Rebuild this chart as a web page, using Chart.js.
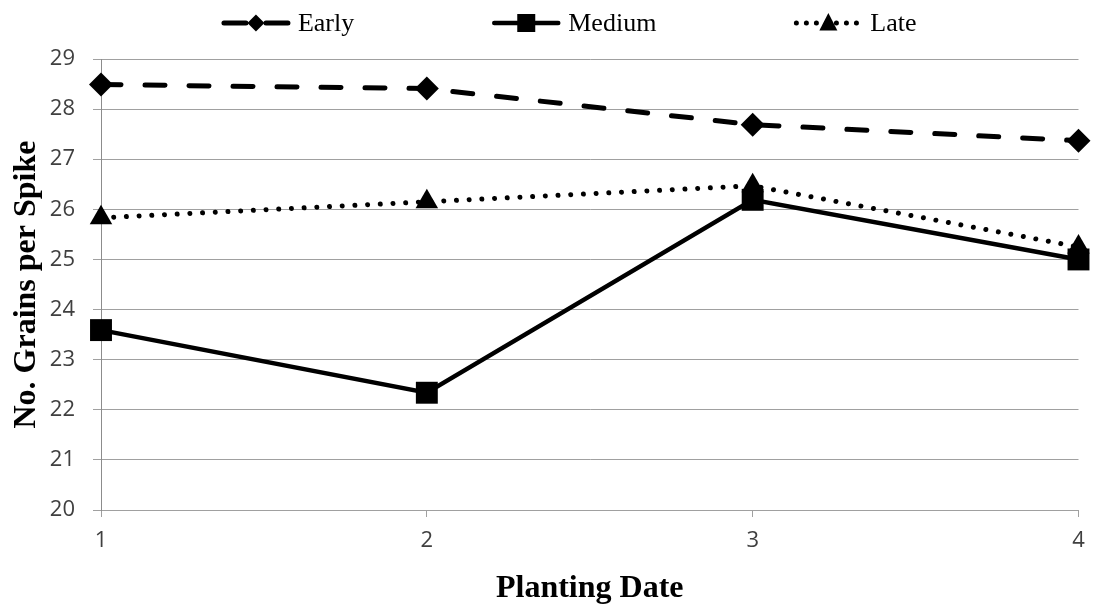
<!DOCTYPE html>
<html><head><meta charset="utf-8">
<script src="https://cdn.jsdelivr.net/npm/chart.js@4"></script>
<style>html,body{margin:0;padding:0;background:#fff}#wrap{width:1094px;height:605px}</style>
</head><body><div id="wrap"><canvas id="c" width="1094" height="605"></canvas></div>
<script>
const plantingDates = [1, 2, 3, 4];
const earlyValues = [28.49, 28.41, 27.69, 27.37];
const mediumValues = [23.59, 22.34, 26.19, 25.0];
const lateValues = [25.83, 26.15, 26.47, 25.25];
const yMin = 20, yMax = 29, yStep = 1;
const xMin = 1, xMax = 4;
const seriesNames = ['Early', 'Medium', 'Late'];
const xTitle = 'Planting Date';
const yTitle = 'No. Grains per Spike';

function pts(vals) { return plantingDates.map((d, i) => ({x: d, y: vals[i]})); }

function drawMarker(ctx, style, x, y, size) {
  ctx.beginPath();
  if (style === 'rectRot') {
    ctx.moveTo(x, y - size); ctx.lineTo(x + size, y); ctx.lineTo(x, y + size); ctx.lineTo(x - size, y);
  } else if (style === 'rect') {
    ctx.rect(x - size, y - size, size * 2, size * 2);
  } else if (style === 'triangle') {
    ctx.moveTo(x, y - size); ctx.lineTo(x + size * 0.9, y + size * 0.75); ctx.lineTo(x - size * 0.9, y + size * 0.75);
  }
  ctx.closePath();
  ctx.fill();
}

const legendPlugin = {
  id: 'excelLegend',
  afterDraw(chart) {
    const ctx = chart.ctx;
    ctx.save();
    ctx.font = '26px "Liberation Serif", "Times New Roman", serif';
    const lineLen = 70, textGap = 7, itemGap = 137;
    const items = chart.data.datasets.map(ds => ({ds, w: lineLen + textGap + ctx.measureText(ds.label).width}));
    const total = items.reduce((s, it) => s + it.w, 0) + itemGap * (items.length - 1);
    const ca = chart.chartArea;
    let x = (ca.left + ca.right) / 2 - 21 - total / 2;
    const y = 23;
    items.forEach(it => {
      const ds = it.ds;
      ctx.strokeStyle = '#000';
      ctx.fillStyle = '#000';
      ctx.lineWidth = ds.borderWidth;
      ctx.lineCap = ds.borderCapStyle || 'butt';
      ctx.setLineDash(ds.legendDash || []);
      ctx.beginPath();
      ctx.moveTo(x + 3, y); ctx.lineTo(x + lineLen - 3, y);
      ctx.stroke();
      ctx.setLineDash([]);
      drawMarker(ctx, ds.pointStyle, x + lineLen / 2, y, ds.legendMarker);
      ctx.textBaseline = 'middle';
      ctx.textAlign = 'left';
      ctx.fillText(ds.label, x + lineLen + textGap, y + 1);
      x += it.w + itemGap;
    });
    ctx.restore();
  }
};

const tickFont = {family: '"Open Sans", "Noto Sans", sans-serif', size: 22};
const titleFont = {family: '"Liberation Serif", "Times New Roman", serif', size: 32, weight: 'bold'};

new Chart(document.getElementById('c'), {
  type: 'line',
  data: {
    datasets: [
      {label: seriesNames[0], data: pts(earlyValues), borderColor: '#000', backgroundColor: '#000',
       borderWidth: 5, borderDash: [20, 24], borderCapStyle: 'round', legendDash: [22, 20],
       pointStyle: 'rectRot', pointRadius: 12, pointBackgroundColor: '#000', pointBorderColor: '#000', pointBorderWidth: 0,
       legendMarker: 8.5, clip: false},
      {label: seriesNames[1], data: pts(mediumValues), borderColor: '#000', backgroundColor: '#000',
       borderWidth: 4.5, borderCapStyle: 'round',
       pointStyle: 'rect', pointRadius: 15.5, pointBackgroundColor: '#000', pointBorderColor: '#000', pointBorderWidth: 0,
       legendMarker: 9, clip: false},
      {label: seriesNames[2], data: pts(lateValues), borderColor: '#000', backgroundColor: '#000',
       borderWidth: 5, borderDash: [0.01, 12.7], borderCapStyle: 'round', legendDash: [0.01, 10],
       pointStyle: 'triangle', pointRadius: 13, pointBackgroundColor: '#000', pointBorderColor: '#000', pointBorderWidth: 0,
       legendMarker: 10, clip: false}
    ]
  },
  options: {
    responsive: false,
    animation: false,
    devicePixelRatio: 1,
    layout: {padding: {top: 59, right: 14, left: 0, bottom: 0}},
    plugins: {legend: {display: false}, tooltip: {enabled: false}},
    elements: {line: {tension: 0}},
    scales: {
      x: {
        type: 'linear', min: xMin, max: xMax, offset: false,
        afterFit: s => { s.height = 95; s.paddingRight = 0; s.paddingLeft = 0; },
        ticks: {stepSize: 1, color: '#404040', font: tickFont, padding: 11, maxRotation: 0},
        grid: {drawOnChartArea: false, drawTicks: true, tickLength: 7, color: '#a0a0a0'},
        border: {display: true, color: '#a0a0a0', width: 1},
        title: {display: true, text: xTitle, color: '#000', font: titleFont, padding: {top: 0, bottom: -3}}
      },
      y: {
        type: 'linear', min: yMin, max: yMax,
        afterFit: s => { s.width = 101; },
        ticks: {stepSize: yStep, color: '#404040', font: tickFont, padding: 18},
        grid: {drawTicks: true, tickLength: 8, color: '#a0a0a0'},
        border: {display: true, color: '#8c8c8c', width: 1},
        title: {display: true, text: yTitle, color: '#000', font: titleFont, padding: {top: 8, bottom: 0}}
      }
    }
  },
  plugins: [legendPlugin]
});
</script></body></html>
